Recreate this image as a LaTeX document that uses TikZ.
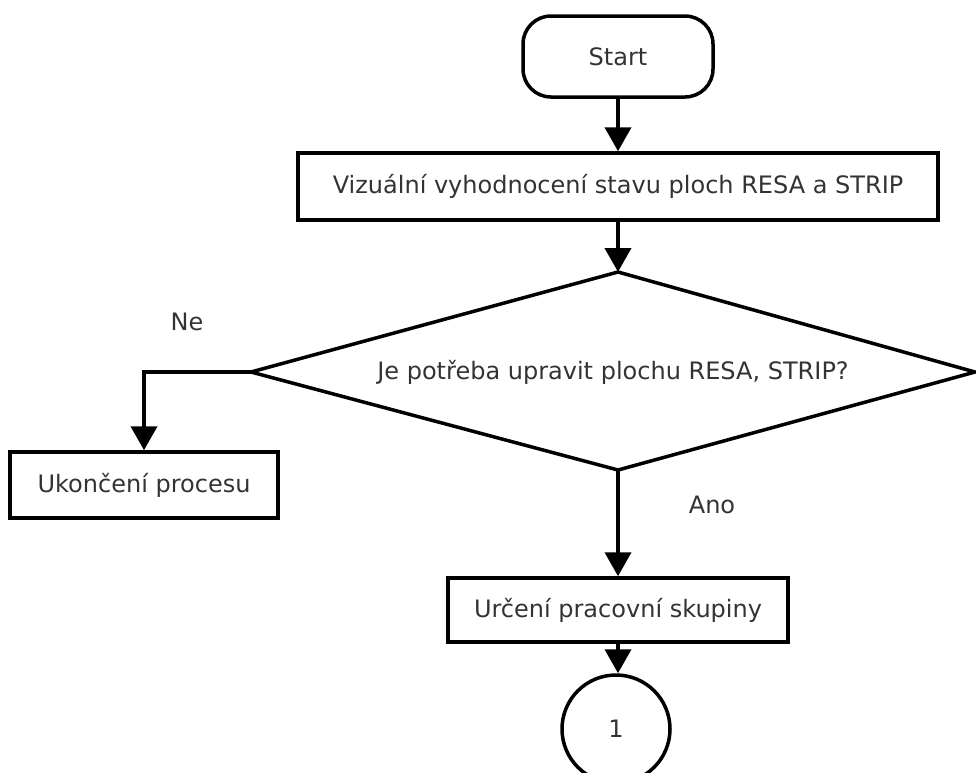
\documentclass[tikz,border=0pt]{standalone}
\usepackage{fontspec}
\setmainfont{DejaVu Sans}
\usetikzlibrary{arrows.meta,positioning}
\definecolor{txt}{HTML}{333333}
\begin{document}
\begin{tikzpicture}[x=1pt,y=-1pt,
  every node/.style={font=\fontsize{24}{28}\selectfont, text=txt},
  proc/.style={draw=black, line width=3.5pt, rectangle, inner sep=0pt},
  flow/.style={draw=black, line width=4pt, -{Triangle[width=26pt,length=24pt]}},
  lbl/.style={inner sep=0pt}]
\useasboundingbox (0,0) rectangle (976,772);
\begin{scope}
\clip (0,0) rectangle (976,772);
% terminator
\node[draw=black, line width=3.5pt, rounded corners=28pt, minimum width=190pt, minimum height=81pt] (start) at (618,56.5) {Start};
% process boxes
\node[proc, minimum width=640pt, minimum height=67pt] (eval) at (618,186.5) {Vizuální vyhodnocení stavu ploch RESA a STRIP};
% decision: the rhombus is drawn through its four corners
\coordinate (dtop) at (618,272);
\coordinate (dleft) at (251,372);
\coordinate (dright) at (975,372);
\coordinate (dbot) at (618,470);
\draw[line width=3.5pt, line join=miter] (dtop) -- (dright) -- (dbot) -- (dleft) -- cycle;
\node (dec) at (613,372) {Je potřeba upravit plochu RESA, STRIP?};
\node[proc, minimum width=268pt, minimum height=66pt] (end) at (144,485) {Ukončení procesu};
\node[proc, minimum width=340pt, minimum height=64pt] (grp) at (618,610) {Určení pracovní skupiny};
\node[draw=black, line width=3.5pt, circle, minimum size=108pt, inner sep=0pt] (conn) at (616,729) {1};
% connectors
\draw[flow] (start.south) -- (eval.north);
\draw[flow] (eval.south) -- (dtop);
\draw[flow] (dleft) -| (end.north);
\draw[flow] (dbot) -- (grp.north);
\draw[flow] (grp.south) -- (grp.south |- conn.north);
% branch labels
\node[lbl] (ne) at (187,322) {Ne};
\node[lbl] (ano) at (712,505) {Ano};
\end{scope}
\end{tikzpicture}
\end{document}
